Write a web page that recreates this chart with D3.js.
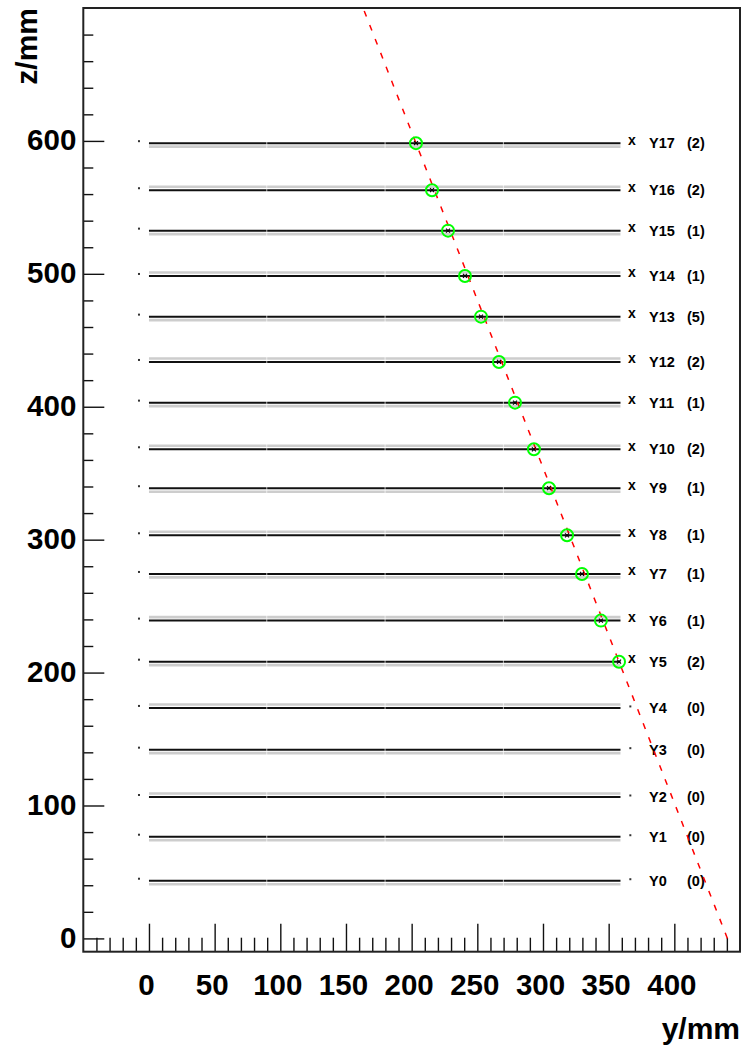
<!DOCTYPE html>
<html>
<head>
<meta charset="utf-8">
<script src="https://cdn.jsdelivr.net/npm/d3@7"></script>
<style>
  html, body { margin: 0; padding: 0; background: #fff; }
  svg { display: block; }
  text { font-family: "Liberation Sans", Arial, sans-serif; font-weight: bold; }
</style>
</head>
<body>
<svg id="chart" width="750" height="1047"></svg>
<script>
// ---------------- data ----------------
const planeNames = ["Y0","Y1","Y2","Y3","Y4","Y5","Y6","Y7","Y8","Y9","Y10","Y11","Y12","Y13","Y14","Y15","Y16","Y17"];
const planeZ = [43.4, 76.5, 106.4, 142.0, 173.4, 208.2, 239.1, 274.2, 303.3, 338.7, 368.0, 403.1, 433.7, 467.8, 498.4, 532.5, 562.9, 598.3];
const hitCounts = [0, 0, 0, 0, 0, 2, 1, 1, 1, 1, 2, 1, 2, 5, 1, 1, 2, 2];
const layerSide = [-1, -1, 1, -1, 1, -1, 1, -1, 1, -1, 1, -1, 1, -1, 1, -1, 1, -1];
const moduleStart = [0, 90, 180, 270];
const moduleEnd = [89.5, 179.5, 269.5, 359];
const hitPlanes = ["Y5","Y6","Y7","Y8","Y9","Y10","Y11","Y12","Y13","Y14","Y15","Y16","Y17"];
const hitY = [357.9, 344.1, 329.7, 318.3, 304.6, 293.1, 278.7, 266.5, 252.8, 240.6, 227.7, 215.5, 203.3];
const trackZ = [0, 700];
const trackY = [440.4, 163.0];
const xMajorTicks = [0, 50, 100, 150, 200, 250, 300, 350, 400];
const yMajorTicks = [0, 100, 200, 300, 400, 500, 600];
const xTitle = "y/mm";
const yTitle = "z/mm";

// ---------------- layout ----------------
const L = 83.3, R = 740, T = 8, B = 951.7;
const svg = d3.select("#chart");
const x = d3.scaleLinear().domain([-50, 450]).range([L, R]);
const y = d3.scaleLinear().domain([-10, 700]).range([B, T]);

svg.append("defs").append("clipPath").attr("id", "frameClip")
  .append("rect").attr("x", L).attr("y", T).attr("width", R - L).attr("height", B - T);

// axes - minor ticks
const xMinor = d3.range(-40, 441, 10).filter(v => v % 50 !== 0);
const yMinor = d3.range(20, 700, 20).filter(v => v % 100 !== 0);

const axX = svg.append("g").attr("transform", `translate(0,${B})`);
axX.call(d3.axisBottom(x).tickValues(xMinor).tickSizeInner(-14).tickSizeOuter(0).tickFormat(""));
axX.selectAll(".domain").remove();
const axXM = svg.append("g").attr("transform", `translate(0,${B})`);
axXM.call(d3.axisBottom(x).tickValues(xMajorTicks).tickSizeInner(-28).tickSizeOuter(0).tickPadding(22).tickFormat(d3.format("d")));
axXM.selectAll(".domain").remove();
axXM.selectAll("text").attr("font-size", 29.5).attr("dx", -3).attr("fill", "#000");

const axY = svg.append("g").attr("transform", `translate(${L},0)`);
axY.call(d3.axisLeft(y).tickValues(yMinor).tickSizeInner(-10).tickSizeOuter(0).tickFormat(""));
axY.selectAll(".domain").remove();
const axYM = svg.append("g").attr("transform", `translate(${L},0)`);
axYM.call(d3.axisLeft(y).tickValues(yMajorTicks).tickSizeInner(-21).tickSizeOuter(0).tickPadding(7).tickFormat(d3.format("d")));
axYM.selectAll(".domain").remove();
axYM.selectAll("text").attr("font-size", 29.5).attr("dy", "0.3em").attr("fill", "#000");

svg.selectAll(".tick line").attr("stroke", "#111").attr("stroke-width", 1.4);

// frame
svg.append("rect").attr("x", L).attr("y", T).attr("width", R - L).attr("height", B - T)
  .attr("fill", "none").attr("stroke", "#222").attr("stroke-width", 2);

// titles
svg.append("text").attr("x", R).attr("y", 1039).attr("text-anchor", "end")
  .attr("font-size", 30).attr("fill", "#000").text(xTitle);
svg.append("text").attr("transform", `translate(37,${T}) rotate(-90)`).attr("text-anchor", "end")
  .attr("font-size", 30).attr("fill", "#000").text(yTitle);

// planes
const planes = planeNames.map((n, i) => ({ name: n, z: planeZ[i], hits: hitCounts[i], side: layerSide[i] }));
const modules = moduleStart.map((s, i) => ({ s: s, e: moduleEnd[i] }));
const gPlanes = svg.append("g");
planes.forEach(p => {
  const g = gPlanes.append("g");
  // secondary (gray) layer
  g.selectAll("line.gray").data(modules).join("line")
    .attr("class", "gray")
    .attr("x1", m => x(m.s)).attr("x2", m => x(m.e))
    .attr("y1", y(p.z + p.side * 2.6)).attr("y2", y(p.z + p.side * 2.6))
    .attr("stroke", "#cdcdcd").attr("stroke-width", 2.6);
  // main (black) layer
  g.selectAll("line.blk").data(modules).join("line")
    .attr("class", "blk")
    .attr("x1", m => x(m.s)).attr("x2", m => x(m.e))
    .attr("y1", y(p.z)).attr("y2", y(p.z))
    .attr("stroke", "#111").attr("stroke-width", 2);
  // left end marker
  g.append("rect").attr("x", x(-7.6) - 1).attr("y", y(p.z) - 3).attr("width", 2).attr("height", 2).attr("fill", "#333");
  // right end marker
  if (p.hits > 0) {
    g.append("text").attr("x", x(367.6)).attr("y", y(p.z)).attr("dy", "0.1em")
      .attr("text-anchor", "middle").attr("font-size", 14).attr("fill", "#000").text("x");
  } else {
    g.append("rect").attr("x", x(366.5) - 1).attr("y", y(p.z) - 2.5).attr("width", 2).attr("height", 2).attr("fill", "#333");
  }
  g.append("text").attr("x", 649).attr("y", y(p.z)).attr("dy", "0.36em")
    .attr("font-size", 14.5).attr("fill", "#000").text(p.name);
  g.append("text").attr("x", 687).attr("y", y(p.z)).attr("dy", "0.36em")
    .attr("font-size", 14.5).attr("fill", "#000").text("(" + p.hits + ")");
});

// track
const track = trackZ.map((z, i) => ({ z: z, yv: trackY[i] }));
svg.append("path").datum(track)
  .attr("clip-path", "url(#frameClip)")
  .attr("d", d3.line().x(d => x(d.yv)).y(d => y(d.z)))
  .attr("fill", "none").attr("stroke", "#ff0000").attr("stroke-width", 1.5)
  .attr("stroke-dasharray", "6,9");

// hits
const hits = hitPlanes.map((n, i) => ({ name: n, yv: hitY[i], z: planeZ[planeNames.indexOf(n)] }));
const gHits = svg.append("g");
gHits.selectAll("circle").data(hits).join("circle")
  .attr("cx", d => x(d.yv)).attr("cy", d => y(d.z)).attr("r", 6)
  .attr("fill", "none").attr("stroke", "#00ff00").attr("stroke-width", 2);
gHits.selectAll("path").data(hits).join("path")
  .attr("d", d => {
    const cx = x(d.yv), cy = y(d.z), s = 2;
    return `M${cx - s},${cy - s}L${cx + s},${cy + s}M${cx - s},${cy + s}L${cx + s},${cy - s}`;
  })
  .attr("stroke", "#000").attr("stroke-width", 1.1);
</script>
</body>
</html>
